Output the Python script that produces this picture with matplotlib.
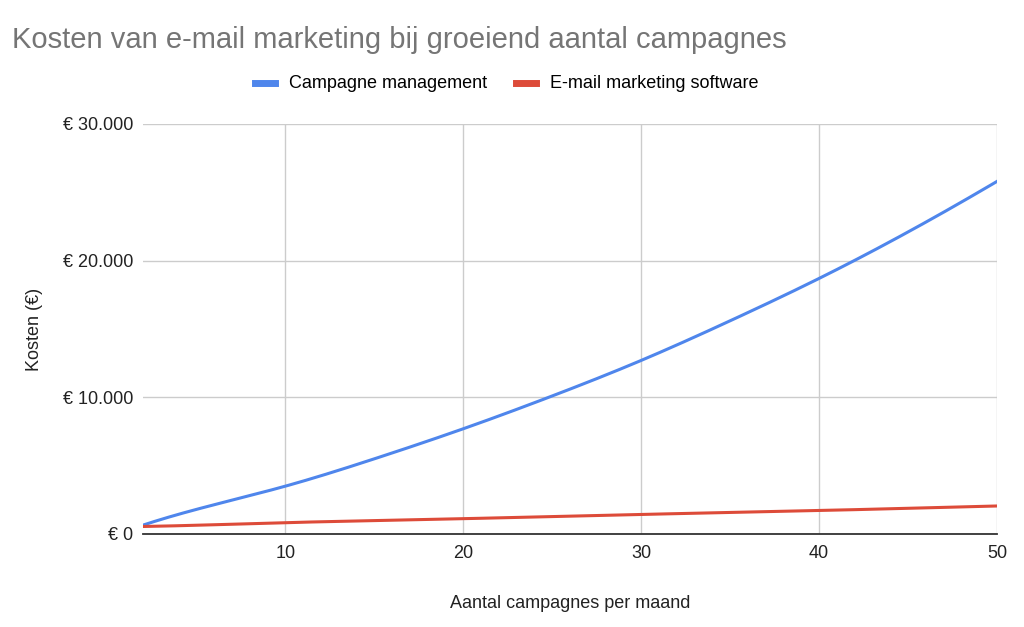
import matplotlib
matplotlib.use("Agg")
import matplotlib.pyplot as plt
from matplotlib.ticker import FuncFormatter
from scipy.interpolate import make_interp_spline
import numpy as np

plt.rcParams["font.family"] = ["Liberation Sans", "DejaVu Sans"]

campagnes = [2, 5, 10, 15, 20, 25, 30, 35, 40, 45, 50]
management = [650, 1800, 3500, 5500, 7700, 10100, 12700, 15600, 18700, 22100, 25800]
software = [550, 640, 830, 980, 1120, 1280, 1430, 1580, 1720, 1880, 2050]

BLUE = "#4f86ec"; RED = "#dd4b39"

fig = plt.figure(figsize=(10.24, 6.27), dpi=100)
ax = fig.add_axes([143/1024, 1-534/627, (997-143)/1024, (534-124)/627])

xs = np.linspace(2, 50, 300)
ax.plot(xs, make_interp_spline(campagnes, management, k=3)(xs), color=BLUE, lw=2.2, label="Campagne management")
ax.plot(xs, make_interp_spline(campagnes, software, k=3)(xs), color=RED, lw=2.2, label="E-mail marketing software")

ax.set_xlim(2, 50); ax.set_ylim(0, 30000)
ax.set_xticks([10, 20, 30, 40, 50]); ax.set_yticks([0, 10000, 20000, 30000])
ax.yaxis.set_major_formatter(FuncFormatter(lambda v, p: "€ " + f"{int(v):,}".replace(",", ".")))
ax.grid(True, color="#cccccc", lw=1)
ax.set_axisbelow(True)
for s in ("left", "top", "right"): ax.spines[s].set_visible(False)
ax.spines["bottom"].set_color("#333333"); ax.spines["bottom"].set_linewidth(1.3)
ax.tick_params(length=0, labelsize=13, colors="#222222")
ax.tick_params(axis="x", pad=8)
ax.tick_params(axis="y", pad=7)
ax.set_xlabel("Aantal campagnes per maand", fontsize=13, color="#222222", labelpad=24)
ax.set_ylabel("Kosten (€)", fontsize=13, color="#222222", labelpad=14)

fig.text(12/1024, 1-40/627, "Kosten van e-mail marketing bij groeiend aantal campagnes", fontsize=21, color="#757575", va="center", ha="left")
fig.legend(*ax.get_legend_handles_labels(), loc="center", bbox_to_anchor=(0.495, 1-84/627), ncol=2, frameon=False, fontsize=13,
           handlelength=1.1, handleheight=0.3, columnspacing=1.6, handletextpad=0.8)
for h in fig.legends[0].get_lines(): h.set_linewidth(5)

fig.savefig("out.png", dpi=100)
